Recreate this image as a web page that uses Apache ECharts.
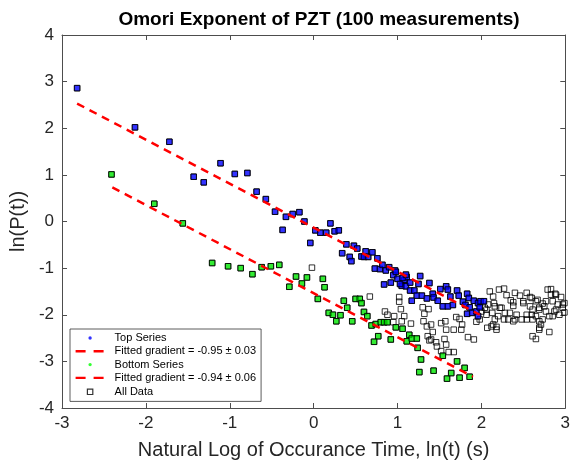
<!DOCTYPE html>
<html style="height: 100%">
  <head>
    <meta charset="UTF-8" />
    <title>Omori Exponent of PZT</title>
    <script src="https://cdn.jsdelivr.net/npm/echarts@6/dist/echarts.min.js"></script>
  </head>
  <body style="height: 100%; margin: 0; background: #fff">
    <div id="main" style="width: 573px; height: 466px"></div>
    <script>
      // top series (blue)
      var topX = [-2.82, -2.13, -1.72, -1.43, -1.31, -1.11, -0.94, -0.79, -0.68, -0.57, -0.46, -0.33, -0.25, -0.17, -0.37, -0.11, 0.02, 0.08, 0.15, 0.2, 0.25, 0.3, -0.04, 0.39, 0.34, 0.43, 0.45, 0.48, 0.52, 0.57, 0.62, 0.6, 0.65, 0.7, 0.76, 0.73, 0.79, 0.82, 0.86, 0.9, 0.97, 0.95, 1.0, 1.08, 1.11, 1.05, 1.1, 0.92, 0.84, 0.98, 1.06, 1.03, 1.1, 1.15, 1.27, 1.25, 1.15, 1.2, 1.17, 1.23, 1.29, 1.38, 1.35, 1.42, 1.43, 1.48, 1.51, 1.58, 1.6, 1.54, 1.6, 1.66, 1.63, 1.71, 1.73, 1.78, 1.83, 1.85, 1.81, 1.86, 1.91, 1.96, 1.99, 2.03, 1.83, 1.89, 1.94, 1.96, 1.98];
      var topY = [2.86, 2.02, 1.71, 0.96, 0.84, 1.25, 1.02, 1.04, 0.64, 0.48, 0.21, 0.1, 0.16, 0.2, -0.18, 0.0, -0.19, -0.24, -0.24, -0.04, -0.21, -0.19, -0.46, -0.49, -0.68, -0.76, -0.85, -0.52, -0.58, -0.75, -0.64, -0.76, -0.76, -0.66, -0.79, -1.01, -1.02, -0.93, -1.05, -0.98, -1.05, -1.15, -1.23, -1.25, -1.19, -1.38, -1.39, -1.31, -1.35, -1.08, -1.21, -1.34, -1.14, -1.31, -1.17, -1.34, -1.48, -1.48, -1.7, -1.59, -1.59, -1.32, -1.65, -1.55, -1.63, -1.7, -1.45, -1.39, -1.46, -1.82, -1.82, -1.79, -1.61, -1.48, -1.59, -1.72, -1.55, -1.64, -1.79, -1.84, -1.7, -1.75, -1.71, -1.71, -1.98, -1.96, -1.93, -2.03, -1.84];

      // bottom series (green)
      var botX = [-2.41, -1.9, -1.56, -1.21, -1.02, -0.87, -0.73, -0.62, -0.51, -0.41, -0.21, -0.08, -0.14, -0.29, 0.11, 0.13, 0.05, 0.36, 0.5, 0.55, 0.57, 0.4, 0.18, 0.23, 0.32, 0.27, 0.46, 0.6, 0.64, 0.69, 0.74, 0.8, 0.84, 0.88, 0.77, 0.72, 0.92, 0.98, 1.06, 1.14, 1.11, 1.17, 1.23, 1.24, 1.28, 1.26, 1.43, 1.54, 1.59, 1.71, 1.8, 1.64, 1.74, 1.86];
      var botY = [1.01, 0.38, -0.04, -0.89, -0.96, -1.0, -1.13, -0.98, -0.96, -0.93, -1.18, -1.2, -1.33, -1.4, -1.23, -1.41, -1.66, -1.7, -1.66, -1.66, -1.75, -1.85, -1.96, -2.0, -2.01, -2.14, -2.14, -1.94, -2.03, -2.23, -2.2, -2.16, -2.16, -2.16, -2.46, -2.58, -2.53, -2.27, -2.3, -2.43, -2.57, -2.51, -2.51, -2.71, -2.96, -3.23, -3.2, -2.88, -3.37, -3.0, -3.14, -3.25, -3.35, -3.33];

      // remaining points of all data
      var restX = [-0.02, 0.67, 1.02, 1.02, 1.04, 0.85, 0.88, 0.96, 1.08, 1.05, 0.95, 1.16, 1.3, 1.37, 1.32, 1.31, 1.35, 1.4, 1.52, 1.57, 1.58, 1.67, 1.77, 1.7, 1.74, 1.56, 1.4, 1.36, 1.47, 1.52, 1.42, 1.46, 1.84, 1.91, 1.94, 2.07, 2.1, 2.21, 2.27, 2.14, 2.3, 2.15, 2.06, 2.13, 2.24, 2.2, 2.27, 2.14, 2.18, 2.35, 2.4, 2.46, 2.54, 2.38, 2.5, 2.6, 2.65, 2.73, 2.79, 2.83, 2.89, 2.95, 2.85, 2.97, 2.89, 2.99, 2.77, 2.69, 2.61, 2.65, 2.54, 2.48, 2.4, 2.73, 2.81, 2.71, 2.81, 2.61, 2.65, 2.42, 2.28, 2.58, 2.38, 2.5, 2.58, 2.67, 2.83, 2.88, 2.99, 2.91, 2.77, 2.75, 2.69, 2.6, 2.34, 2.22, 2.16, 2.08, 2.04, 2.0, 2.06, 2.16, 2.18, 1.98, 2.32, 2.38, 2.54, 2.61, 2.69, 2.85, 2.93, 2.87, 2.97, 2.69, 1.58, 1.76, 1.38, 1.61, 1.67, 2.12, 2.69];
      var restY = [-0.99, -1.61, -1.62, -1.72, -1.88, -1.93, -2.0, -2.03, -2.03, -2.14, -2.16, -2.19, -1.84, -1.88, -1.98, -2.14, -2.25, -2.21, -2.18, -2.14, -2.32, -2.32, -2.21, -2.05, -2.09, -2.52, -2.53, -2.46, -2.68, -2.78, -2.37, -2.59, -2.48, -2.53, -2.15, -2.28, -1.5, -1.46, -1.44, -1.61, -1.58, -1.75, -1.89, -1.96, -1.85, -2.03, -2.1, -2.21, -2.26, -1.69, -1.53, -1.59, -1.53, -1.81, -1.71, -1.64, -1.71, -1.76, -1.46, -1.45, -1.57, -1.62, -1.71, -1.78, -1.89, -1.95, -1.93, -1.89, -1.89, -2.03, -2.0, -2.1, -2.1, -2.1, -2.03, -2.21, -2.37, -2.46, -2.52, -2.0, -1.96, -1.82, -1.73, -1.75, -1.62, -1.68, -1.57, -1.55, -1.75, -1.78, -1.71, -1.82, -1.85, -2.0, -1.96, -1.85, -1.82, -1.78, -1.85, -1.93, -2.0, -2.1, -2.32, -2.1, -2.1, -2.14, -2.1, -2.1, -2.14, -2.03, -2.0, -1.93, -1.85, -2.28, -2.64, -2.32, -2.55, -2.8, -2.8, -2.25, -2.32];

      // fitted lines (end points)
      var fitTopX = [-2.82, 1.98];
      var fitTopY = [2.53, -2.0];
      var fitBotX = [-2.4, 1.9];
      var fitBotY = [0.73, -3.33];

      function pairs(xs, ys) {
        return xs.map(function (x, i) { return [x, ys[i]]; });
      }

      var topData = pairs(topX, topY);
      var botData = pairs(botX, botY);
      var allData = topData.concat(botData, pairs(restX, restY));

      var font = 'Liberation Sans, Arial, Helvetica, sans-serif';
      var axisColor = '#4d4d4d';
      var textColor = '#262626';

      // small icons for the legend (corner moves keep the box size)
      var frame = 'M0,0M29,0M29,12M0,12';
      var dotIcon = 'path://' + frame + 'M12.8,6A1.7,1.7 0 1 1 16.2,6A1.7,1.7 0 1 1 12.8,6Z';
      var squareIcon = 'path://' + frame + 'M11.8,3.3L17.2,3.3L17.2,8.7L11.8,8.7Z';
      var dashIcon = 'path://' + frame + 'M0,4.8L10,4.8L10,7.2L0,7.2ZM18,4.8L28,4.8L28,7.2L18,7.2Z';

      var chart = echarts.init(document.getElementById('main'));

      var baseX = {
        type: 'value',
        min: -3,
        max: 3,
        interval: 1,
        splitLine: { show: false },
        axisLine: { show: true, onZero: false, lineStyle: { color: axisColor, width: 1 } },
        axisTick: { show: true, inside: true, length: 5, lineStyle: { color: axisColor } }
      };
      var baseY = {
        type: 'value',
        min: -4,
        max: 4,
        interval: 1,
        splitLine: { show: false },
        axisLine: { show: true, onZero: false, lineStyle: { color: axisColor, width: 1 } },
        axisTick: { show: true, inside: true, length: 5, lineStyle: { color: axisColor } }
      };

      var option = {
        backgroundColor: '#fff',
        animation: false,
        title: {
          text: 'Omori Exponent of PZT (100 measurements)',
          left: 314,
          textAlign: 'center',
          top: 5,
          textStyle: { fontFamily: font, fontSize: 19, fontWeight: 'bold', color: '#000' }
        },
        grid: { left: 62, right: 7, top: 35, bottom: 58 },
        xAxis: [
          Object.assign({}, baseX, {
            position: 'bottom',
            name: 'Natural Log of Occurance Time, ln(t) (s)',
            nameLocation: 'middle',
            nameGap: 32,
            nameTextStyle: { fontFamily: font, fontSize: 20, color: textColor },
            axisLabel: { fontFamily: font, fontSize: 17, color: textColor, margin: 7 }
          }),
          Object.assign({}, baseX, { position: 'top', axisLabel: { show: false } })
        ],
        yAxis: [
          Object.assign({}, baseY, {
            position: 'left',
            name: 'ln(P(t))',
            nameLocation: 'middle',
            nameGap: 33,
            nameTextStyle: { fontFamily: font, fontSize: 20, color: textColor },
            axisLabel: { fontFamily: font, fontSize: 17, color: textColor, margin: 8 }
          }),
          Object.assign({}, baseY, { position: 'right', axisLabel: { show: false } })
        ],
        legend: {
          orient: 'vertical',
          left: 70,
          top: 329,
          padding: [3, 5, 3, 5],
          itemWidth: 29,
          itemHeight: 12,
          itemGap: 1.3,
          backgroundColor: '#fff',
          borderColor: '#333',
          borderWidth: 0.8,
          borderRadius: 0,
          selectedMode: false,
          textStyle: { fontFamily: font, fontSize: 11, color: '#000', padding: [0, 0, 0, 5] },
          data: [
            { name: 'Top Series', icon: dotIcon, itemStyle: { color: '#0000ff', borderWidth: 0 } },
            { name: 'Fitted gradient = -0.95 ± 0.03', icon: dashIcon, itemStyle: { color: '#ff0000', borderWidth: 0 } },
            { name: 'Bottom Series', icon: dotIcon, itemStyle: { color: '#00ff00', borderWidth: 0 } },
            { name: 'Fitted gradient = -0.94 ± 0.06', icon: dashIcon, itemStyle: { color: '#ff0000', borderWidth: 0 } },
            { name: 'All Data', icon: squareIcon, itemStyle: { color: 'rgba(0,0,0,0)', borderColor: '#000', borderWidth: 1.2 } }
          ]
        },
        series: [
          {
            name: 'All Data',
            type: 'scatter',
            symbol: 'rect',
            symbolSize: 5.5,
            itemStyle: { color: 'rgba(255,255,255,0)', borderColor: '#000', borderWidth: 1 },
            data: allData
          },
          {
            name: 'Top Series',
            type: 'scatter',
            symbol: 'rect',
            symbolSize: 5.5,
            itemStyle: { color: '#0000ff', borderColor: '#000', borderWidth: 1 },
            data: topData
          },
          {
            name: 'Bottom Series',
            type: 'scatter',
            symbol: 'rect',
            symbolSize: 5.5,
            itemStyle: { color: '#00e600', borderColor: '#000', borderWidth: 1 },
            data: botData
          },
          {
            name: 'Fitted gradient = -0.95 ± 0.03',
            type: 'line',
            symbol: 'none',
            lineStyle: { color: '#ff0000', width: 2.5, type: [8, 6] },
            itemStyle: { color: '#ff0000' },
            data: pairs(fitTopX, fitTopY)
          },
          {
            name: 'Fitted gradient = -0.94 ± 0.06',
            type: 'line',
            symbol: 'none',
            lineStyle: { color: '#ff0000', width: 2.5, type: [8, 6] },
            itemStyle: { color: '#ff0000' },
            data: pairs(fitBotX, fitBotY)
          }
        ]
      };

      chart.setOption(option);
    </script>
  </body>
</html>
